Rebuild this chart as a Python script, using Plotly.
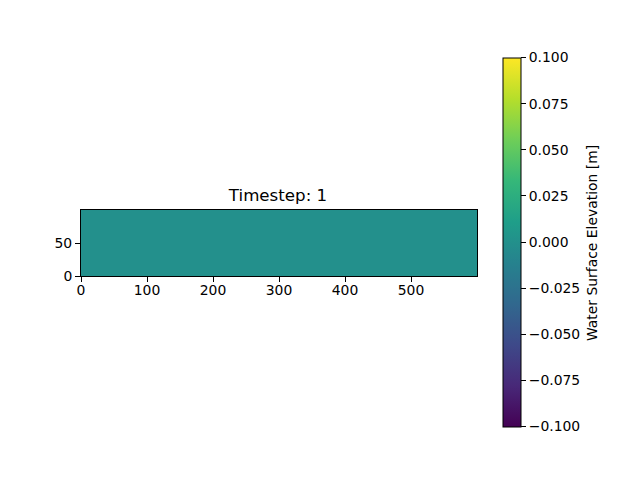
import plotly.graph_objects as go

# cell edges and the water surface at timestep 1
x_edges = [0, 600]
y_edges = [0, 100]
elevation = [[0.0]]

x_ticks = [0, 100, 200, 300, 400, 500]
y_ticks = [0, 50]
cbar_ticks = [-0.1, -0.075, -0.05, -0.025, 0.0, 0.025, 0.05, 0.075, 0.1]

title_text = "Timestep: 1"
cbar_label = "Water Surface Elevation [m]"

font_name = "DejaVu Sans"

# the page has an 8px body margin, so the figure is 8px smaller than the window
fig = go.Figure()
fig.add_trace(go.Heatmap(
    x=x_edges, y=y_edges, z=elevation,
    colorscale="Viridis", zmin=-0.1, zmax=0.1,
    hoverinfo="skip",
    colorbar=dict(
        x=(503 - 81) / 396, xanchor="left", xpad=0,
        y=(276 - 242) / 66, yanchor="middle", ypad=0,
        lenmode="pixels", len=369,
        thicknessmode="pixels", thickness=18,
        outlinecolor="black", outlinewidth=1,
        tickmode="array", tickvals=cbar_ticks, tickformat=".3f",
        ticks="outside", ticklen=5, tickwidth=1, tickcolor="black",
        tickfont=dict(family=font_name, size=13.9, color="black"),
    ),
))

fig.update_xaxes(
    range=[0, 600], tickmode="array", tickvals=x_ticks,
    ticks="outside", ticklen=5, tickwidth=1, tickcolor="black",
    showline=True, linecolor="black", linewidth=1, mirror=True,
    showgrid=False, zeroline=False, ticklabelstandoff=-4,
    tickfont=dict(family=font_name, size=13.9, color="black"),
)
fig.update_yaxes(
    range=[0, 100], tickmode="array", tickvals=y_ticks,
    ticks="outside", ticklen=5, tickwidth=1, tickcolor="black",
    showline=True, linecolor="black", linewidth=1, mirror=True,
    showgrid=False, zeroline=False,
    tickfont=dict(family=font_name, size=13.9, color="black"),
)

fig.update_layout(
    width=632, height=472,
    margin=dict(l=73, r=163, t=202, b=204, autoexpand=False),
    paper_bgcolor="white", plot_bgcolor="white",
    title=dict(
        text=title_text, x=0.4975, xref="paper",
        y=(472 - 187) / 472, yref="container", yanchor="middle",
        font=dict(family=font_name, size=16.67, color="black"),
    ),
    annotations=[dict(
        text=cbar_label, textangle=-90, showarrow=False,
        xref="paper", yref="paper",
        x=(592 - 81) / 396, y=(276 - 243) / 66,
        xanchor="center", yanchor="middle",
        font=dict(family=font_name, size=13.9, color="black"),
    )],
)

fig.write_html("out.html")
